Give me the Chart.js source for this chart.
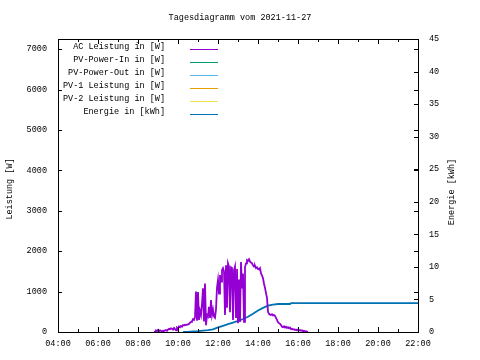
<!DOCTYPE html>
<html>
<head>
<meta charset="utf-8">
<script src="https://cdn.jsdelivr.net/npm/chart.js@4.4.0/dist/chart.umd.min.js"></script>
<style>
  html, body { margin: 0; padding: 0; background: #fff; }
  #wrap { width: 480px; height: 360px; }
</style>
</head>
<body>
<div id="wrap"><canvas id="dayChart"></canvas></div>
<script>
const chartTitle = 'Tagesdiagramm vom 2021-11-27';
const xTickLabels = ['04:00', '06:00', '08:00', '10:00', '12:00', '14:00', '16:00', '18:00', '20:00', '22:00'];
const yTickValues = [0, 1000, 2000, 3000, 4000, 5000, 6000, 7000];
const y2TickValues = [0, 5, 10, 15, 20, 25, 30, 35, 40, 45];

const seriesLabels = ['AC Leistung in [W]', 'PV-Power-In in [W]', 'PV-Power-Out in [W]',
    'PV-1 Leistung in [W]', 'PV-2 Leistung in [W]', 'Energie in [kWh]'];
const seriesColors = ['#9400d3', '#009e73', '#56b4e9', '#e69f00', '#f0e442', '#0072b2'];

// AC Leistung, Watt
const acTimes = [
    '08:48', '08:51', '08:54', '08:57', '09:00', '09:03', '09:06', '09:09', '09:12', '09:15',
    '09:18', '09:21', '09:24', '09:27', '09:30', '09:33', '09:36', '09:39', '09:42', '09:45',
    '09:48', '09:51', '09:54', '09:57', '10:00', '10:03', '10:06', '10:09', '10:12', '10:15',
    '10:18', '10:21', '10:24', '10:27', '10:30', '10:33', '10:36', '10:39', '10:42', '10:45',
    '10:48', '10:51', '10:54', '10:57', '11:00', '11:03', '11:06', '11:09', '11:12', '11:15',
    '11:18', '11:21', '11:24', '11:27', '11:30', '11:33', '11:36', '11:39', '11:42', '11:45',
    '11:48', '11:51', '11:54', '11:57', '12:00', '12:03', '12:06', '12:09', '12:12', '12:15',
    '12:18', '12:21', '12:24', '12:27', '12:30', '12:33', '12:36', '12:39', '12:42', '12:45',
    '12:48', '12:51', '12:54', '12:57', '13:00', '13:03', '13:06', '13:09', '13:12', '13:15',
    '13:18', '13:21', '13:24', '13:27', '13:30', '13:33', '13:36', '13:39', '13:42', '13:45',
    '13:48', '13:51', '13:54', '13:57', '14:00', '14:03', '14:06', '14:09', '14:12', '14:15',
    '14:18', '14:21', '14:24', '14:27', '14:30', '14:33', '14:36', '14:39', '14:42', '14:45',
    '14:48', '14:51', '14:54', '14:57', '15:00', '15:03', '15:06', '15:09', '15:12', '15:15',
    '15:18', '15:21', '15:24', '15:27', '15:30', '15:33', '15:36', '15:39', '15:42', '15:45',
    '15:48', '15:51', '15:54', '15:57', '16:00', '16:03', '16:06', '16:09', '16:12', '16:15',
    '16:18', '16:21', '16:24', '16:27', '16:30'
];
const acPower = [
    0, 0, 40, 20, 50, 10, 40, 30, 0, 30,
    20, 40, 50, 30, 60, 80, 70, 90, 80, 60,
    100, 70, 40, 110, 90, 140, 120, 150, 130, 170,
    160, 180, 170, 170, 190, 200, 230, 250, 270, 320,
    300, 370, 1000, 280, 990, 300, 520, 420, 700, 1080,
    260, 1200, 170, 420, 380, 620, 350, 790, 420, 550,
    380, 350, 560, 1100, 1290, 950, 1410, 1250, 1530, 1580,
    1500, 420, 1650, 600, 1700, 1620, 490, 1600, 1580, 300,
    1530, 1620, 370, 1560, 220, 1300, 250, 1730, 1100, 1450,
    250, 1600, 1700, 1780, 1760, 1800, 1740, 1720, 1700, 1650,
    1620, 1640, 1580, 1600, 1560, 1550, 1580, 1450, 1400, 1330,
    1200, 1090, 960, 840, 500, 450, 430, 420, 440, 410,
    420, 400, 350, 300, 240, 220, 200, 170, 130, 120,
    140, 110, 130, 100, 120, 90, 110, 70, 80, 60,
    70, 50, 60, 40, 60, 40, 50, 30, 40, 20,
    30, 10, 20, 10, 0
];

// Energie, kWh
const energyTimes = ['10:15', '10:30', '10:45', '11:00', '11:15', '11:30', '11:45', '12:00', '12:15', '12:30',
    '12:45', '13:00', '13:15', '13:30', '13:45', '14:00', '14:15', '14:30', '14:45', '15:00',
    '15:36', '15:39', '22:00'];
const energyKwh = [0, 0.03, 0.08, 0.13, 0.2, 0.28, 0.4, 0.7, 0.95, 1.2,
    1.45, 1.7, 2.0, 2.35, 2.8, 3.3, 3.7, 4.05, 4.2, 4.3,
    4.3, 4.45, 4.45];

const FONT = 'Liberation Mono';

function toHours(s) {
    const p = s.split(':');
    return Number(p[0]) + Number(p[1]) / 60;
}

function points(times, values) {
    return times.map((t, i) => ({ x: toHours(t), y: values[i] }));
}

const seriesData = [points(acTimes, acPower), [], [], [], [], points(energyTimes, energyKwh)];

const frame = {
    id: 'frame',
    afterDraw(chart) {
        const ctx = chart.ctx;
        const a = chart.chartArea;
        const sx = chart.scales.x, sy = chart.scales.y, sy2 = chart.scales.y2;
        ctx.save();
        ctx.strokeStyle = '#000';
        ctx.lineWidth = 1;
        ctx.strokeRect(Math.round(a.left) + 0.5, Math.round(a.top) + 0.5,
            Math.round(a.right - a.left), Math.round(a.bottom - a.top));

        ctx.beginPath();
        // x ticks, inward, mirrored on top
        for (let h = 4; h <= 22; h++) {
            const px = Math.round(sx.getPixelForValue(h)) + 0.5;
            const len = h % 2 === 0 ? 5 : 3;
            ctx.moveTo(px, a.bottom); ctx.lineTo(px, a.bottom - len);
            ctx.moveTo(px, a.top); ctx.lineTo(px, a.top + len);
        }
        // y ticks left, mirrored right
        yTickValues.forEach(v => {
            const py = Math.round(sy.getPixelForValue(v)) + 0.5;
            ctx.moveTo(a.left, py); ctx.lineTo(a.left + 4, py);
            ctx.moveTo(a.right, py); ctx.lineTo(a.right - 4, py);
        });
        // y2 ticks right
        y2TickValues.forEach(v => {
            const py = Math.round(sy2.getPixelForValue(v)) + 0.5;
            ctx.moveTo(a.right, py); ctx.lineTo(a.right - 4, py);
        });
        ctx.stroke();

        ctx.fillStyle = '#000';
        ctx.font = '8.5px "' + FONT + '"';
        ctx.textBaseline = 'middle';
        ctx.textAlign = 'center';
        ctx.fillText(chartTitle, 240, 18);

        // axis titles
        ctx.save();
        ctx.translate(10, 189);
        ctx.rotate(-Math.PI / 2);
        ctx.fillText('Leistung [W]', 0, 0);
        ctx.restore();
        ctx.save();
        ctx.translate(452, 192);
        ctx.rotate(-Math.PI / 2);
        ctx.fillText('Energie [kWh]', 0, 0);
        ctx.restore();

        // legend
        chart.data.datasets.forEach((ds, i) => {
            const y = 49 + i * 13;
            ctx.textAlign = 'right';
            ctx.fillStyle = '#000';
            ctx.fillText(ds.label, 165, y - 2);
            ctx.strokeStyle = ds.borderColor;
            ctx.beginPath();
            ctx.moveTo(190, y + 0.5); ctx.lineTo(218, y + 0.5);
            ctx.stroke();
        });
        ctx.restore();
    }
};

new Chart(document.getElementById('dayChart'), {
    type: 'line',
    data: {
        datasets: seriesLabels.map((label, i) => ({
            label: label,
            data: seriesData[i],
            borderColor: seriesColors[i],
            backgroundColor: seriesColors[i],
            borderWidth: 1.8,
            pointRadius: 0,
            tension: 0,
            yAxisID: i === 5 ? 'y2' : 'y',
        }))
    },
    options: {
        responsive: true,
        maintainAspectRatio: false,
        animation: false,
        layout: { padding: { top: 39, left: 0, right: 0, bottom: 0 } },
        scales: {
            x: {
                type: 'linear',
                min: 4,
                max: 22,
                afterFit: s => { s.height = 28; },
                grid: { display: false, drawTicks: false },
                border: { display: false },
                ticks: {
                    stepSize: 2,
                    maxRotation: 0,
                    autoSkip: false,
                    padding: 7,
                    color: '#000',
                    font: { family: FONT, size: 8.5 },
                    callback: v => xTickLabels[(v - 4) / 2],
                },
            },
            y: {
                position: 'left',
                min: 0,
                max: 7250,
                afterFit: s => { s.width = 58; },
                afterBuildTicks: s => { s.ticks = yTickValues.map(v => ({ value: v })); },
                grid: { display: false, drawTicks: false },
                border: { display: false },
                ticks: {
                    autoSkip: false,
                    padding: 11,
                    color: '#000',
                    font: { family: FONT, size: 8.5 },
                    callback: v => String(v),
                },
            },
            y2: {
                position: 'right',
                min: 0,
                max: 45,
                afterFit: s => { s.width = 62; },
                afterBuildTicks: s => { s.ticks = y2TickValues.map(v => ({ value: v })); },
                grid: { display: false, drawTicks: false },
                border: { display: false },
                ticks: {
                    autoSkip: false,
                    padding: 11,
                    color: '#000',
                    font: { family: FONT, size: 8.5 },
                    callback: v => String(v),
                },
            },
        },
        plugins: {
            legend: { display: false },
            tooltip: { enabled: false },
            title: { display: false },
        }
    },
    plugins: [frame],
});
</script>
</body>
</html>
